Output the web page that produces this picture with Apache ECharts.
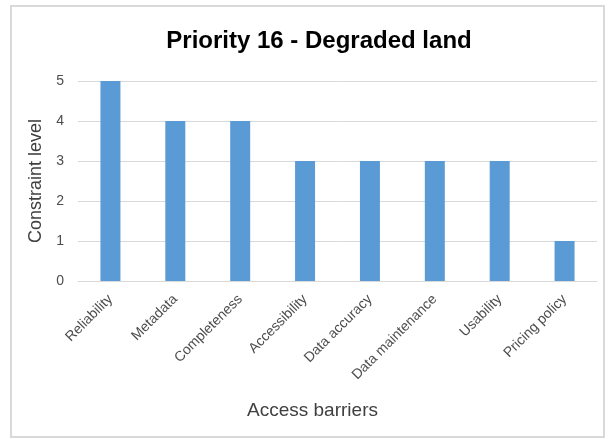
<!DOCTYPE html>
<html><head><meta charset="utf-8">
<script src="https://cdn.jsdelivr.net/npm/echarts@6/dist/echarts.min.js"></script>
<style>html,body{margin:0;padding:0;background:#fff}#c{width:611px;height:439px}</style>
</head><body><div id="c"></div>
<script>
const categories = ["Reliability","Metadata","Completeness","Accessibility","Data accuracy","Data maintenance","Usability","Pricing policy"];
const values = [5,4,4,3,3,3,3,1];
const yTicks = [0,1,2,3,4,5];
const titleText = "Priority 16 - Degraded land";
const xName = "Access barriers";
const yName = "Constraint level";

const chart = echarts.init(document.getElementById('c'), null, {renderer:'canvas'});
chart.setOption({
  animation:false,
  backgroundColor:'#fff',
  graphic:[{type:'rect',shape:{x:11,y:6,width:593,height:431},style:{fill:'none',stroke:'#d9d9d9',lineWidth:2},silent:true}],
  title:{text:titleText,top:24,left:314,textAlign:'center',textStyle:{fontFamily:'Liberation Sans, Arial',fontSize:24,fontWeight:'bold',color:'#000'}},
  grid:{left:78,right:14,top:81,bottom:158,containLabel:false},
  xAxis:{type:'category',data:categories,
    name:xName,nameLocation:'middle',nameGap:120,
    nameTextStyle:{fontFamily:'Liberation Sans, Arial',fontSize:19,color:'#404040',padding:[0,50,0,0]},
    axisLine:{lineStyle:{color:'#d9d9d9'}},axisTick:{show:false},
    axisLabel:{rotate:45,interval:0,margin:16,fontFamily:'Liberation Sans, Arial',fontSize:14,color:'#4d4d4d'}},
  yAxis:{type:'value',min:yTicks[0],max:yTicks[yTicks.length-1],interval:1,
    name:yName,nameLocation:'middle',nameGap:32,
    nameTextStyle:{fontFamily:'Liberation Sans, Arial',fontSize:18,color:'#404040'},
    axisLine:{show:false},axisTick:{show:false},
    splitLine:{lineStyle:{color:'#d9d9d9'}},
    axisLabel:{margin:14,fontFamily:'Liberation Sans, Arial',fontSize:14,color:'#4d4d4d'}},
  series:[{type:'bar',data:values,barWidth:20,itemStyle:{color:'#5b9bd5'}}]
});
</script></body></html>
